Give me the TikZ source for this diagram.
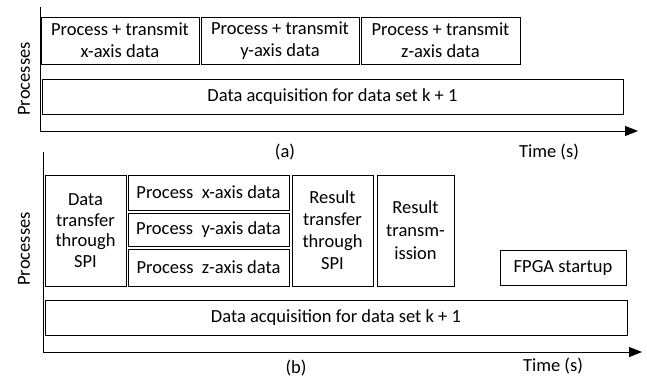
\documentclass[tikz,border=0pt]{standalone}
\usepackage{fontspec}
\setmainfont{Carlito}
\usetikzlibrary{arrows.meta}
\begin{document}
\begin{tikzpicture}[x=1pt,y=-1pt,
  box/.style={draw=black,line width=0.9pt,inner sep=0pt,align=center,
    font=\fontsize{18.5}{20.5}\selectfont},
  lbl/.style={inner sep=0pt,font=\fontsize{18.5}{20.5}\selectfont},
  axis/.style={line width=1pt,-{Triangle[length=13pt,width=10pt]}}]
\useasboundingbox (0,0) rectangle (647,378);
% panel (a)
\coordinate (atop) at (40,7);
\coordinate (aorig) at (40,131);
\coordinate (aend) at (638,131);
\draw[axis] (atop) -- (aorig) -- (aend);
\node[box,minimum width=158,minimum height=47,font=\fontsize{18.5}{22}\selectfont] (a1) at (120,40.5) {Process + transmit\\x-axis data};
\node[box,minimum width=158,minimum height=47,font=\fontsize{18.5}{22}\selectfont] (a2) at (280,40.5) {Process + transmit\\y-axis data};
\node[box,minimum width=159,minimum height=47,font=\fontsize{18.5}{22}\selectfont] (a3) at (440.5,40.5) {Process + transmit\\z-axis data};
\node[box,minimum width=581,minimum height=35] (acqa) at (332.5,96.5) {Data acquisition for data set k + 1};
\node[lbl,rotate=90] (proca) at (24,79) {Processes};
\node[lbl] (la) at (285,152) {(a)};
\node[lbl] (ta) at (549,152) {Time (s)};
% panel (b)
\coordinate (btop) at (43,152);
\coordinate (borig) at (43,352);
\coordinate (bend) at (642,352);
\draw[axis] (btop) -- (borig) -- (bend);
\node[box,minimum width=81,minimum height=111] (b1) at (85.5,230.5) {Data\\transfer\\through\\SPI};
\node[box,minimum width=161,minimum height=35] (px) at (208.5,192.5) {Process\ \ x-axis data};
\node[box,minimum width=161,minimum height=33] (py) at (208.5,229.5) {Process\ \ y-axis data};
\node[box,minimum width=161,minimum height=37] (pz) at (208.5,267.5) {Process\ \ z-axis data};
\node[box,minimum width=81,minimum height=111,font=\fontsize{18.5}{22}\selectfont] (rt) at (332.5,230.5) {Result\\transfer\\through\\SPI};
\node[box,minimum width=77,minimum height=111,font=\fontsize{18.5}{23}\selectfont] (rtm) at (415.5,230.5) {Result\\transm-\\ission};
\node[box,minimum width=126,minimum height=35] (fpga) at (563,267.5) {FPGA startup};
\node[box,minimum width=582,minimum height=35] (acqb) at (336,317.5) {Data acquisition for data set k + 1};
\node[lbl,rotate=90] (procb) at (24,249) {Processes};
\node[lbl] (lb) at (296,368) {(b)};
\node[lbl] (tb) at (553,366) {Time (s)};
\end{tikzpicture}
\end{document}
